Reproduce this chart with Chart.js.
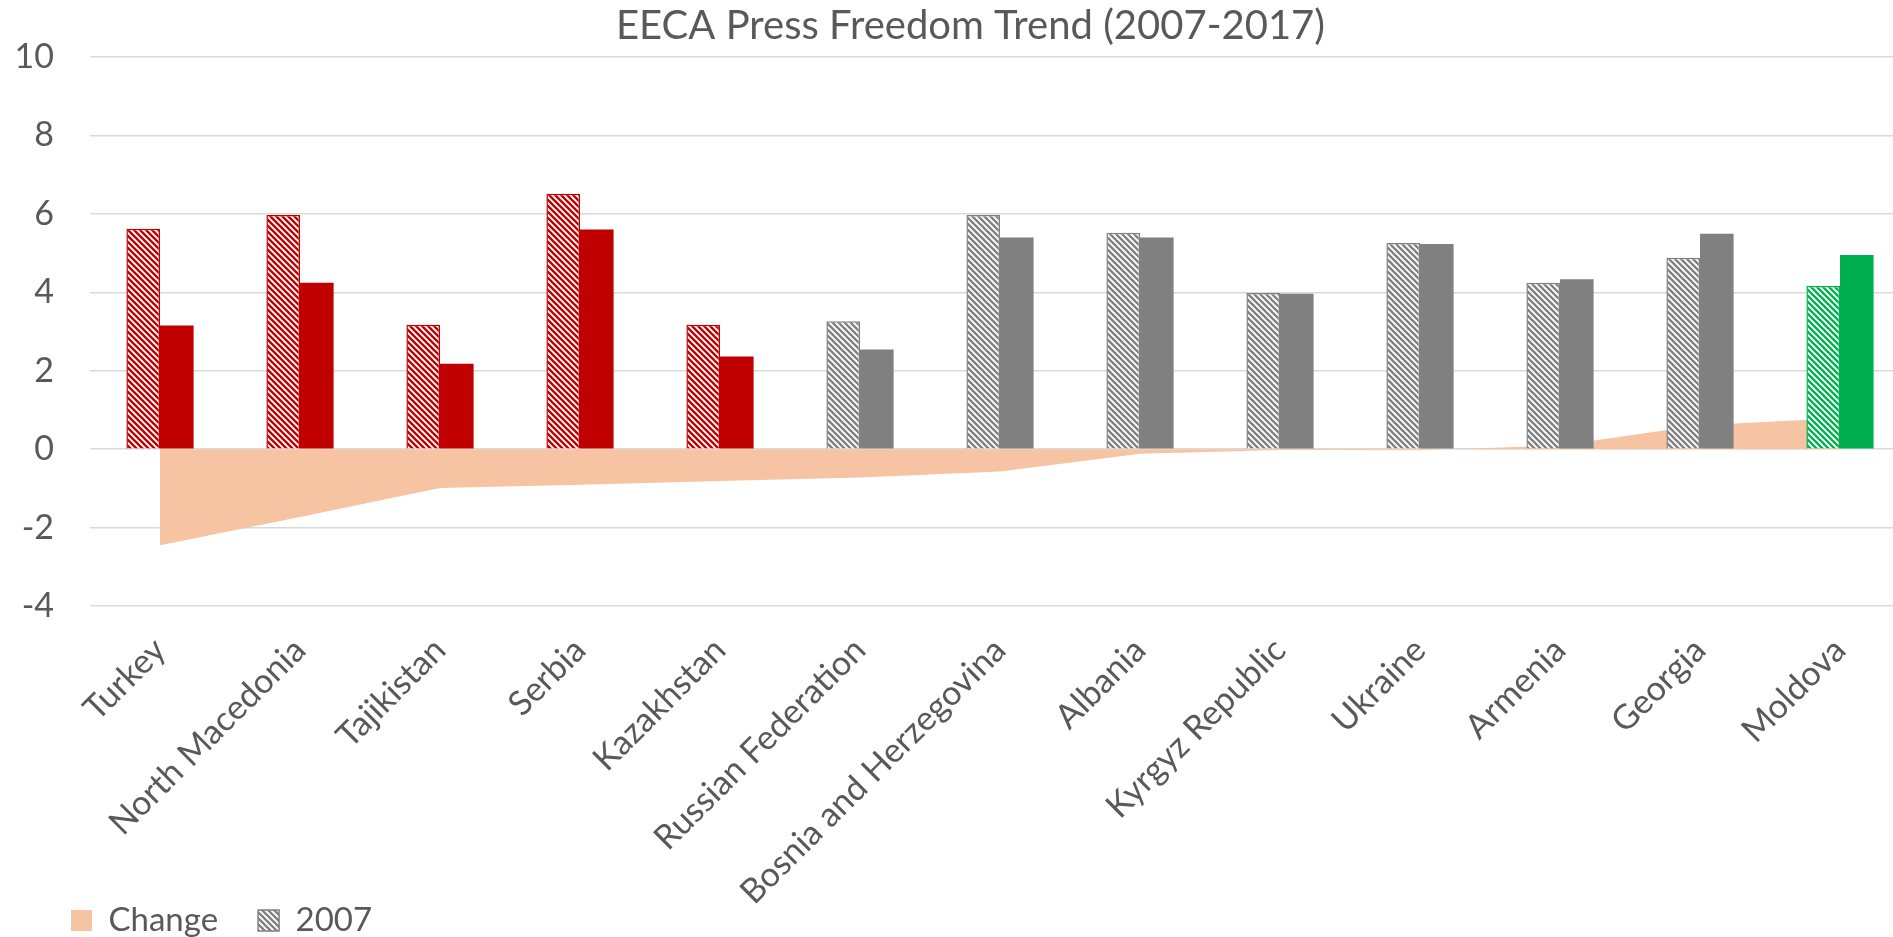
<!DOCTYPE html>
<html>
<head>
<meta charset="utf-8">
<script src="https://cdn.jsdelivr.net/npm/chart.js@4"></script>
<style>
  html, body { margin: 0; padding: 0; background: #fff; overflow: hidden; }
  #wrap { width: 1933px; height: 947px; }
</style>
</head>
<body>
<div id="wrap"><canvas id="chart"></canvas></div>
<script>
const countries = ['Turkey', 'North Macedonia', 'Tajikistan', 'Serbia', 'Kazakhstan', 'Russian Federation',
  'Bosnia and Herzegovina', 'Albania', 'Kyrgyz Republic', 'Ukraine', 'Armenia', 'Georgia', 'Moldova'];
const score2007 = [5.62, 5.97, 3.17, 6.51, 3.17, 3.26, 5.97, 5.52, 3.98, 5.26, 4.24, 4.88, 4.16];
const score2017 = [3.15, 4.24, 2.18, 5.60, 2.36, 2.54, 5.40, 5.40, 3.96, 5.23, 4.33, 5.49, 4.95];
const change = [-2.45, -1.73, -0.99, -0.91, -0.81, -0.72, -0.57, -0.12, -0.02, -0.03, 0.09, 0.61, 0.79];
const yTicks = [-4, -2, 0, 2, 4, 6, 8, 10];

const RED = '#C00000', GREY = '#808080', GREEN = '#00B050';
const groupColor = [RED, RED, RED, RED, RED, GREY, GREY, GREY, GREY, GREY, GREY, GREY, GREEN];
const PEACH = '#F6C4A2';
const TXT = '#595959';
const FONT = 'Lato';

// "wide downward diagonal" fill like the excel pattern
function stripes(color) {
  const c = document.createElement('canvas');
  c.width = 6; c.height = 6;
  const g = c.getContext('2d');
  g.fillStyle = '#fff';
  g.fillRect(0, 0, 6, 6);
  g.strokeStyle = color;
  g.lineWidth = 2.3;
  g.beginPath();
  for (let k = -6; k <= 6; k += 6) {
    g.moveTo(-1, k - 1);
    g.lineTo(7, k + 7);
  }
  g.stroke();
  return g.createPattern(c, 'repeat');
}

// long rotated labels must not be cut at the axis box
const noLabelClip = (scale) => { scale._computeLabelArea = () => undefined; };

const ctx = document.getElementById('chart').getContext('2d');

new Chart(ctx, {
  data: {
    labels: countries,
    datasets: [
      {
        type: 'line',
        label: 'Change',
        data: change,
        fill: 'origin',
        backgroundColor: PEACH,
        borderWidth: 0,
        pointRadius: 0,
        tension: 0,
        order: 3
      },
      {
        type: 'bar',
        label: '2007',
        data: score2007,
        backgroundColor: groupColor.map(stripes),
        borderColor: groupColor,
        borderWidth: 1.5,
        order: 1
      },
      {
        type: 'bar',
        label: '2017',
        data: score2017,
        backgroundColor: groupColor,
        borderWidth: 0,
        order: 1
      }
    ]
  },
  options: {
    responsive: true,
    maintainAspectRatio: false,
    animation: false,
    layout: { padding: { left: 31, right: 23, top: 0, bottom: 0 } },
    datasets: {
      bar: { categoryPercentage: 0.48, barPercentage: 1 }
    },
    scales: {
      x: {
        grid: { display: false, drawTicks: false },
        border: { display: false },
        ticks: {
          autoSkip: false,
          minRotation: 45,
          maxRotation: 45,
          padding: 24,
          color: TXT,
          font: { family: FONT, size: 34 }
        },
        afterFit: (scale) => { scale.height = 258; noLabelClip(scale); }
      },
      y: {
        min: -4,
        max: 10,
        afterBuildTicks: (scale) => { scale.ticks = yTicks.map((v) => ({ value: v })); },
        grid: { color: '#D9D9D9', lineWidth: 1.5, drawTicks: false },
        border: { display: false },
        ticks: {
          padding: 36,
          color: TXT,
          font: { family: FONT, size: 34 }
        },
        afterFit: (scale) => { scale.width = 59; noLabelClip(scale); }
      }
    },
    plugins: {
      title: {
        display: true,
        text: 'EECA Press Freedom Trend (2007-2017)',
        color: TXT,
        font: { family: FONT, size: 40, weight: 'normal' },
        padding: { top: 2, bottom: 7 }
      },
      legend: {
        position: 'bottom',
        align: 'start',
        labels: {
          boxWidth: 21,
          boxHeight: 21,
          padding: 40,
          color: TXT,
          font: { family: FONT, size: 33 },
          filter: (item) => item.text !== '2017',
          sort: (a, b) => a.datasetIndex - b.datasetIndex,
          generateLabels: (chart) => {
            const items = Chart.defaults.plugins.legend.labels.generateLabels(chart);
            items.forEach((it) => {
              if (it.text === 'Change') {
                it.fillStyle = PEACH;
                it.lineWidth = 0;
              } else {
                it.fillStyle = stripes(GREY);
                it.strokeStyle = GREY;
                it.lineWidth = 1.5;
              }
            });
            return items;
          }
        }
      },
      tooltip: { enabled: false }
    }
  }
});
</script>
</body>
</html>
